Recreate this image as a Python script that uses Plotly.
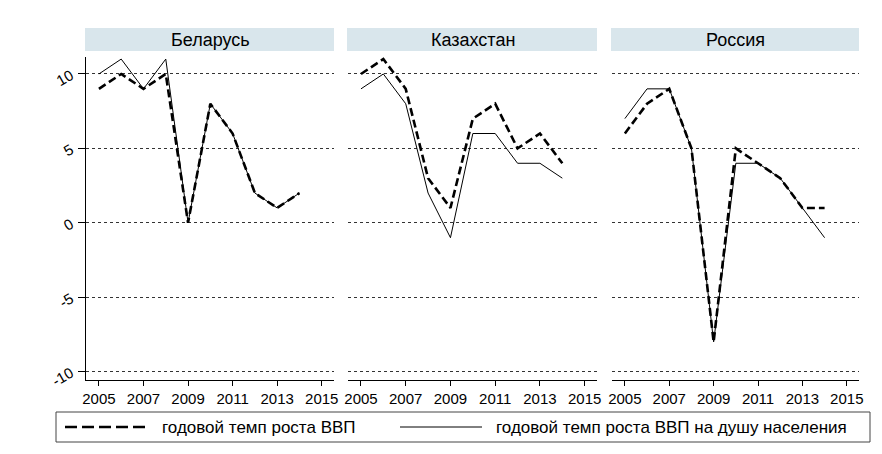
import plotly.graph_objects as go

years = [2005, 2006, 2007, 2008, 2009, 2010, 2011, 2012, 2013, 2014]
countries = ["Беларусь", "Казахстан", "Россия"]
gdp_belarus = [9, 10, 9, 10, 0, 8, 6, 2, 1, 2]
pc_belarus = [10, 11, 9, 11, 0, 8, 6, 2, 1, 2]
gdp_kazakhstan = [10, 11, 9, 3, 1, 7, 8, 5, 6, 4]
pc_kazakhstan = [9, 10, 8, 2, -1, 6, 6, 4, 4, 3]
gdp_russia = [6, 8, 9, 5, -8, 5, 4, 3, 1, 1]
pc_russia = [7, 9, 9, 5, -8, 4, 4, 3, 1, -1]
x_ticks = [2005, 2007, 2009, 2011, 2013, 2015]
y_ticks = [-10, -5, 0, 5, 10]
y_tick_labels = ["-10", "-5", "0", "5", "10"]
legend_labels = ["годовой темп роста ВВП", "годовой темп роста ВВП на душу населения"]

gdp_series = [gdp_belarus, gdp_kazakhstan, gdp_russia]
pc_series = [pc_belarus, pc_kazakhstan, pc_russia]

# page body has an 8px margin; figure is placed at (8, 8)
OFF = 8
W, H = 882 - OFF, 454 - OFF
def fx(px):
    return (px - OFF) / W
def fy(py):
    return 1 - (py - OFF) / H

FONT = "Liberation Sans, Arial, sans-serif"
panels_px = [(86, 334), (348, 597), (612, 859)]
top_px, bot_px = 57, 380

fig = go.Figure()
for i in range(3):
    sfx = "" if i == 0 else str(i + 1)
    fig.add_trace(go.Scatter(x=years, y=pc_series[i], mode="lines",
                             line=dict(color="black", width=1),
                             xaxis="x" + sfx, yaxis="y" + sfx, showlegend=False))
    fig.add_trace(go.Scatter(x=years, y=gdp_series[i], mode="lines",
                             line=dict(color="black", width=2.6, dash="8px,4px"),
                             xaxis="x" + sfx, yaxis="y" + sfx, showlegend=False))

layout = dict(
    width=W, height=H,
    margin=dict(l=0, r=0, t=0, b=0),
    paper_bgcolor="white", plot_bgcolor="white",
    font=dict(family=FONT, size=15, color="black"),
    shapes=[], annotations=[],
)

for i, (x0, x1) in enumerate(panels_px):
    sfx = "" if i == 0 else str(i + 1)
    layout["xaxis" + sfx] = dict(
        domain=[fx(x0), fx(x1)], range=[2004.42, 2015.55], anchor="y" + sfx,
        tickvals=x_ticks, ticks="outside", ticklen=5, tickcolor="black",
        showline=True, linecolor="black", linewidth=1, showgrid=False,
        zeroline=False, tickfont=dict(size=15, family=FONT), automargin=False,
    )
    layout["yaxis" + sfx] = dict(
        domain=[fy(bot_px), fy(top_px)], range=[-10.56, 11.14], anchor="x" + sfx,
        tickvals=y_ticks, ticktext=y_tick_labels,
        showgrid=True, gridcolor="#333333", gridwidth=1,
        griddash="3px,3px", zeroline=False, automargin=False,
        showline=(i == 0), linecolor="black", linewidth=1,
        ticks="outside" if i == 0 else "", ticklen=7, tickcolor="black",
        showticklabels=(i == 0), tickangle=-30, ticklabelstandoff=4,
        tickfont=dict(size=15, family=FONT),
    )
    layout["shapes"].append(dict(type="rect", xref="paper", yref="paper",
                                 x0=fx(x0 - 1), x1=fx(x1), y0=fy(51), y1=fy(28),
                                 fillcolor="#D9E6EC", line=dict(width=0), layer="below"))
    layout["annotations"].append(dict(text=countries[i], xref="paper", yref="paper",
                                      x=fx((x0 + x1) / 2), y=fy(40), showarrow=False,
                                      xanchor="center", yanchor="middle",
                                      font=dict(size=18, family=FONT, color="black")))

# legend box
layout["shapes"].append(dict(type="rect", xref="paper", yref="paper",
                             x0=fx(56), x1=fx(870), y0=fy(442), y1=fy(412),
                             line=dict(color="#444444", width=1), fillcolor="white"))
layout["shapes"].append(dict(type="line", xref="paper", yref="paper",
                             x0=fx(65), x1=fx(148), y0=fy(427), y1=fy(427),
                             line=dict(color="black", width=2.6, dash="12px,5px")))
layout["shapes"].append(dict(type="line", xref="paper", yref="paper",
                             x0=fx(400), x1=fx(482), y0=fy(427), y1=fy(427),
                             line=dict(color="black", width=1)))
layout["annotations"].append(dict(text=legend_labels[0], xref="paper", yref="paper",
                                  x=fx(160), y=fy(427), showarrow=False,
                                  xanchor="left", yanchor="middle",
                                  font=dict(size=17, family=FONT)))
layout["annotations"].append(dict(text=legend_labels[1], xref="paper", yref="paper",
                                  x=fx(494), y=fy(427), showarrow=False,
                                  xanchor="left", yanchor="middle",
                                  font=dict(size=17, family=FONT)))

fig.update_layout(**layout)
fig.write_html("out.html")
